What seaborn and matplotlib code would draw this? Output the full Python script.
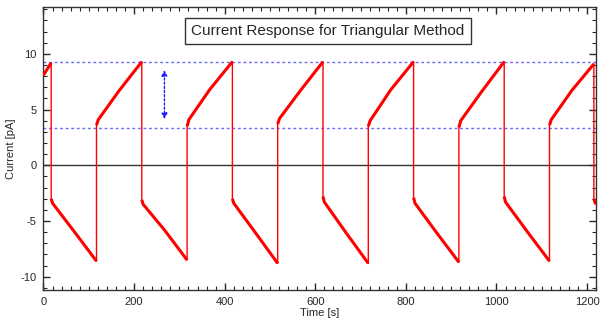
import matplotlib.pyplot as plt
import matplotlib.ticker as mticker
import numpy as np
import pandas as pd
import seaborn as sns

# breakpoints of the current trace
drop_t = [17, 217, 417, 617, 817, 1017, 1215]
peak_val = [9.2, 9.3, 9.3, 9.3, 9.3, 9.3, 9.1]
fall_start = [-3.0, -3.1, -3.0, -2.8, -2.9, -2.8, -3.0]
fall_knee = [-3.4, -3.5, -3.4, -3.3, -3.4, -3.3, -3.4]
fall_mid = [-5.9, -5.8, -6.0, -6.0, -6.0, -5.9]
jump_t = [117, 317, 517, 717, 917, 1117]
trough_val = [-8.6, -8.5, -8.8, -8.8, -8.7, -8.6]
rise_start = [3.6, 3.5, 3.7, 3.5, 3.4, 3.6]
rise_knee = [4.1, 4.1, 4.2, 4.0, 4.0, 4.1]
rise_mid = [6.7, 6.8, 6.7, 6.8, 6.6, 6.7]
t_start, i_start = 0, 8.1
t_end, i_end = 1220, -3.4

upper_level = 9.3
lower_level = 3.35
arrow_t = 267
arrow_lo, arrow_hi = 3.9, 8.8

# build trace from the breakpoints
t, cur = [t_start], [i_start]
ramps = [([t_start, drop_t[0]], [i_start, peak_val[0]])]
for k in range(len(drop_t)):
    t += [drop_t[k], drop_t[k]]
    cur += [peak_val[k], fall_start[k]]
    if k < len(jump_t):
        tm = (drop_t[k] + jump_t[k]) / 2
        fx = [drop_t[k], drop_t[k] + 3, tm, jump_t[k]]
        fy = [fall_start[k], fall_knee[k], fall_mid[k], trough_val[k]]
        t += fx[1:] + [jump_t[k]]
        cur += fy[1:] + [rise_start[k]]
        ramps.append((fx, fy))
        tm = (jump_t[k] + drop_t[k + 1]) / 2
        rx = [jump_t[k], jump_t[k] + 4, tm, drop_t[k + 1]]
        ry = [rise_start[k], rise_knee[k], rise_mid[k], peak_val[k + 1]]
        t += rx[1:-1]
        cur += ry[1:-1]
        ramps.append((rx, ry))
t += [drop_t[-1] + 3, t_end]
cur += [fall_knee[-1], i_end]
ramps.append(([drop_t[-1], drop_t[-1] + 3, t_end],
              [fall_start[-1], fall_knee[-1], i_end]))
df = pd.DataFrame({"t": t, "i": cur})

sns.set_style("ticks")
plt.rcParams["font.family"] = ["Liberation Sans", "DejaVu Sans"]
plt.rcParams["axes.unicode_minus"] = False

fig = plt.figure(figsize=(6.04, 3.22), dpi=100)
ax = fig.add_axes([0.072, 0.099, 0.915, 0.879])

ax.axhline(0, color="#333333", lw=1.0, zorder=1)
ax.axhline(upper_level, color="#6a6aff", lw=1.0, ls=(0, (2, 2)), zorder=1)
ax.axhline(lower_level, color="#6a6aff", lw=1.0, ls=(0, (2, 2)), zorder=1)

sns.lineplot(data=df, x="t", y="i", sort=False, estimator=None,
             color="red", lw=1.0, ax=ax, zorder=3)
for rx, ry in ramps:
    sns.lineplot(x=rx, y=ry, sort=False, estimator=None,
                 color="red", lw=2.2, ax=ax, zorder=3,
                 solid_capstyle="butt")

ax.annotate("", xy=(arrow_t, arrow_hi), xytext=(arrow_t, arrow_lo),
            arrowprops=dict(arrowstyle="<|-|>", color="#1a1aff", lw=1.0,
                            ls=(0, (1.5, 1.5)), mutation_scale=8))

ax.text(0.515, 0.915, "Current Response for Triangular Method",
        transform=ax.transAxes, ha="center", va="center", fontsize=11,
        bbox=dict(boxstyle="square,pad=0.4", fc="white", ec="#333333", lw=1.0))

ax.set_xlim(0, 1220)
ax.set_ylim(-11.2, 14.2)
ax.xaxis.set_major_locator(mticker.MultipleLocator(200))
ax.xaxis.set_minor_locator(mticker.MultipleLocator(20))
ax.yaxis.set_major_locator(mticker.MultipleLocator(5))
ax.yaxis.set_minor_locator(mticker.MultipleLocator(1))
ax.tick_params(direction="in", which="major", length=5, width=1,
               top=True, right=True, labelsize=8, pad=5)
ax.tick_params(direction="in", which="minor", length=3, width=0.8,
               top=True, right=True)
for s in ax.spines.values():
    s.set_linewidth(1.0)
    s.set_color("#333333")

ax.set_xlabel("Time [s]", fontsize=8, labelpad=1)
ax.set_ylabel("Current [pA]", fontsize=8, labelpad=3)

fig.savefig("out.png", dpi=100)
